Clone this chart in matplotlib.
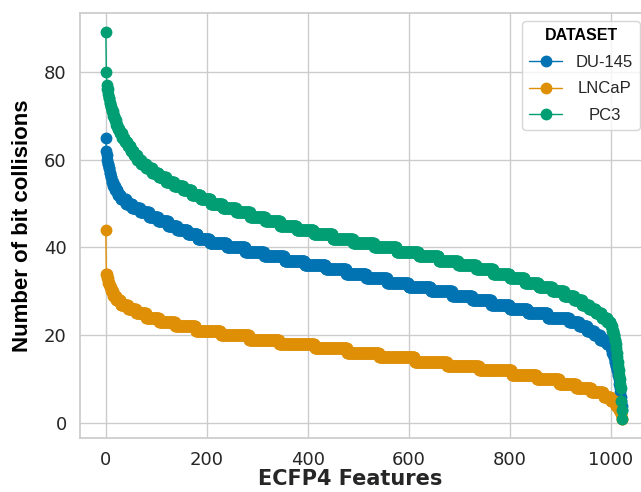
import numpy as np
import matplotlib
matplotlib.use('Agg')
import matplotlib.pyplot as plt
import seaborn as sns

# Sorted collision counts per ECFP4 bit, stored as (level, run length) pairs
du145_levels = [65, 62, 61, 60, 59, 58, 57, 56, 55, 54, 53, 52, 51, 50, 49, 48, 47, 46,
                45, 44, 43, 42, 41, 40, 39, 38, 37, 36, 35, 34, 33, 32, 31, 30, 29, 28,
                27, 26, 25, 24, 23, 22, 21, 20, 19, 18, 17, 16, 15, 14, 13, 12, 11, 10,
                9, 8, 7, 6, 5, 4, 3]
du145_counts = [1, 1, 1, 1, 2, 2, 2, 2, 3, 4, 5, 6, 10, 12, 16, 18, 18, 20,
                18, 20, 20, 24, 34, 36, 38, 40, 40, 42, 40, 40, 42, 42, 44, 42, 40, 38,
                36, 36, 40, 42, 20, 16, 14, 12, 12, 8, 3, 3, 2, 2, 2, 2, 2, 1,
                1, 1, 1, 1, 1, 1, 1]

lncap_levels = [44, 34, 33, 32, 31, 30, 29, 28, 27, 26, 25, 24, 23, 22, 21, 20, 19, 18,
                17, 16, 15, 14, 13, 12, 11, 10, 9, 8, 7, 6, 5, 4, 3, 2, 1]
lncap_counts = [1, 2, 2, 3, 3, 4, 6, 9, 14, 16, 20, 26, 32, 40, 50, 56, 60, 70,
                64, 64, 70, 64, 64, 64, 50, 44, 34, 30, 24, 14, 10, 6, 4, 2, 2]

pc3_levels = [89, 80, 77, 76, 75, 74, 73, 72, 71, 70, 69, 68, 67, 66, 65, 64, 63, 62,
              61, 60, 59, 58, 57, 56, 55, 54, 53, 52, 51, 50, 49, 48, 47, 46, 45, 44,
              43, 42, 41, 40, 39, 38, 37, 36, 35, 34, 33, 32, 31, 30, 29, 28, 27, 26,
              25, 24, 23, 22, 21, 20, 19, 18, 17, 16, 15, 14, 13, 12, 11, 10, 9, 8,
              5, 3, 1]
pc3_counts = [1, 1, 1, 2, 1, 2, 2, 2, 3, 3, 3, 3, 4, 5, 5, 5, 6, 6,
              7, 8, 10, 12, 13, 15, 16, 17, 17, 18, 20, 24, 26, 28, 30, 30, 32, 34,
              38, 40, 42, 44, 44, 40, 38, 36, 34, 32, 30, 28, 26, 24, 20, 16, 14, 13,
              12, 10, 7, 3, 3, 2, 2, 1, 1, 1, 1, 1, 1, 1, 1, 1, 1, 1,
              1, 1, 1]

series = [
    ('DU-145', du145_levels, du145_counts),
    ('LNCaP', lncap_levels, lncap_counts),
    ('PC3', pc3_levels, pc3_counts),
]

sns.set_theme(style='whitegrid')
colors = sns.color_palette('colorblind')

fig = plt.figure(figsize=(6.41, 4.92), dpi=100)
# the original image is cropped on the right, so the axes runs past the figure edge
ax = fig.add_axes([80 / 641, 1 - 438 / 492, 568 / 641, 425 / 492])

for i, (name, levels, counts) in enumerate(series):
    vals = np.repeat(levels, counts)
    ax.plot(np.arange(len(vals)), vals, marker='o', markersize=7.5, linewidth=1,
            color=colors[i], label=name)

ax.set_xticks([0, 200, 400, 600, 800, 1000])
ax.set_yticks([0, 20, 40, 60, 80])
ax.tick_params(labelsize=13)
ax.set_xlabel('ECFP4 Features', fontsize=15, fontweight='bold')
ax.xaxis.set_label_coords(270 / 568, -31 / 425)
ax.set_ylabel('Number of bit collisions', fontsize=16, fontweight='bold',
              family='Liberation Sans', color='black', labelpad=8)

leg = ax.legend(title='DATASET', loc='upper right', labelspacing=0.7,
                prop={'family': 'Liberation Sans', 'size': 12},
                title_fontproperties={'family': 'Liberation Sans', 'weight': 'bold', 'size': 11.5},
                frameon=True)
leg.get_title().set_color('black')

# centre the legend entries under the title
fig.canvas.draw()
renderer = fig.canvas.get_renderer()
widths = [t.get_window_extent(renderer).width for t in leg.get_texts()]
widest = max(widths)
for t, w in zip(leg.get_texts(), widths):
    t.set_position(((widest - w) / 2, 0))

fig.savefig('out.png', dpi=100)
